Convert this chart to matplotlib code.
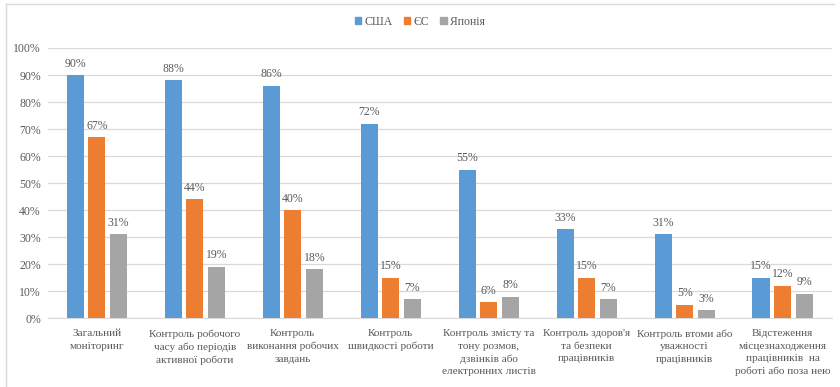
import matplotlib
matplotlib.use("Agg")
import matplotlib.pyplot as plt
import numpy as np
from matplotlib.lines import Line2D
from matplotlib.patches import Patch

categories = [
    "Загальний\nмоніторинг",
    "Контроль робочого\nчасу або періодів\nактивної роботи",
    "Контроль\nвиконання робочих\nзавдань",
    "Контроль\nшвидкості роботи",
    "Контроль змісту та\nтону розмов,\nдзвінків або\nелектронних листів",
    "Контроль здоров'я\nта безпеки\nпрацівників",
    "Контроль втоми або\nуважності\nпрацівників",
    "Відстеження\nмісцезнаходження\nпрацівників  на\nроботі або поза нею",
]
series_names = ["США", "ЄС", "Японія"]
usa = [90, 88, 86, 72, 55, 33, 31, 15]
eu = [67, 44, 40, 15, 6, 15, 5, 12]
japan = [31, 19, 18, 7, 8, 7, 3, 9]
yticks = [0, 10, 20, 30, 40, 50, 60, 70, 80, 90, 100]

colors = ["#5B9BD5", "#ED7D31", "#A5A5A5"]
text_color = "#595959"
plt.rcParams["font.family"] = ["Liberation Serif", "DejaVu Serif"]
fs = 8.5

fig = plt.figure(figsize=(8.4, 3.87), dpi=100)
ax = fig.add_axes([0.057, 0.178, 0.933, 0.698])

x = np.arange(len(categories))
w = 0.175
offs = [-0.22, 0, 0.22]
for vals, c, o, name in zip([usa, eu, japan], colors, offs, series_names):
    bars = ax.bar(x + o, vals, width=w, color=c, label=name, zorder=3)
    for b, v in zip(bars, vals):
        ax.text(b.get_x() + b.get_width() / 2, v + 2.0, f"{v}%", ha="center",
                va="bottom", fontsize=fs, color=text_color)

ax.set_xlim(-0.5, len(categories) - 0.5)
ax.set_ylim(0, 100)
ax.set_yticks(yticks)
ax.set_yticklabels([f"{t}%" for t in yticks])
ax.yaxis.grid(True, color="#D9D9D9", linewidth=0.9, zorder=0)
ax.set_axisbelow(True)
for s in ["top", "right", "left"]:
    ax.spines[s].set_visible(False)
ax.spines["bottom"].set_color("#D9D9D9")
ax.tick_params(axis="both", length=0, colors=text_color, labelsize=fs)
ax.tick_params(axis="y", pad=5)
ax.set_xticks(x)
ax.set_xticklabels(categories, fontsize=8.1, color=text_color, linespacing=1.5)
ax.tick_params(axis="x", pad=8)
for lab in ax.get_xticklabels():
    lab.set_va("top")

handles = [Patch(color=c) for c in colors]
fig.legend(handles, series_names, loc="center", bbox_to_anchor=(0.5, 0.943),
           ncol=3, frameon=False, fontsize=fs, handlelength=0.55, handleheight=0.55,
           handletextpad=0.3, columnspacing=0.9, labelcolor=text_color)

fig.add_artist(Line2D([0.007, 0.993], [0.99, 0.99], color="#D9D9D9", lw=1.0,
                      transform=fig.transFigure))
fig.add_artist(Line2D([0.007, 0.007], [0.0, 0.99], color="#D9D9D9", lw=1.0,
                      transform=fig.transFigure))

fig.savefig("out.png", dpi=100)
